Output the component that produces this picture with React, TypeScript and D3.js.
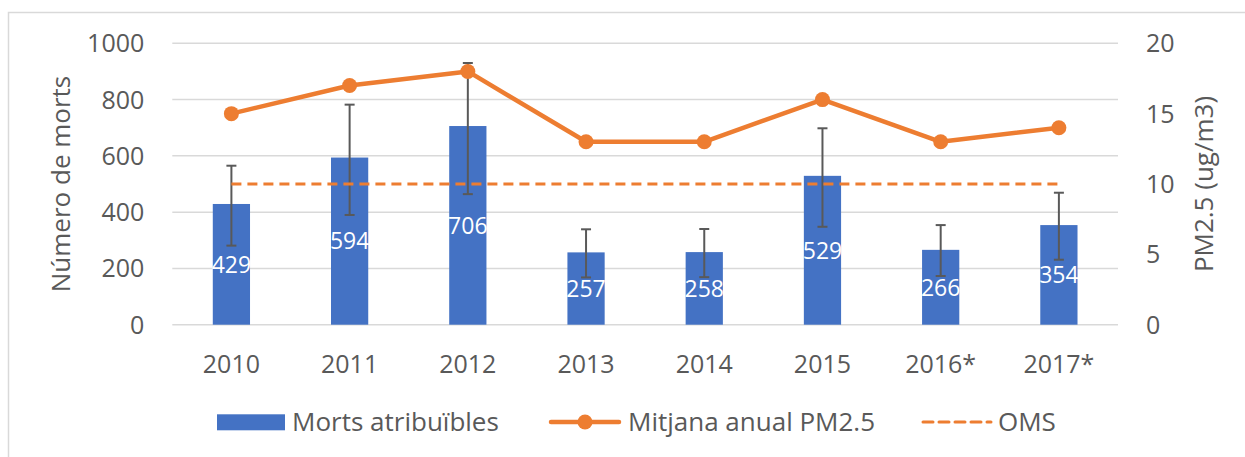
import * as d3 from 'd3';

const years = ['2010', '2011', '2012', '2013', '2014', '2015', '2016*', '2017*'];
const deaths = [429, 594, 706, 257, 258, 529, 266, 354];
const deathsLow = [281, 390, 464, 168, 169, 348, 173, 231];
const deathsHigh = [565, 782, 930, 339, 340, 698, 354, 469];
const pm25 = [15, 17, 18, 13, 13, 16, 13, 14];
const oms = 10;
const leftTicks = [0, 200, 400, 600, 800, 1000];
const rightTicks = [0, 5, 10, 15, 20];

const W = 1245;
const H = 457;
const MARGIN = { top: 43.3, right: 127, bottom: 132.3, left: 172.3 };
const FONT = '"Open Sans", sans-serif';
const TEXT = '#595959';
const BLUE = '#4472C4';
const ORANGE = '#ED7D31';

export default function App() {
    const boundsW = W - MARGIN.left - MARGIN.right;
    const boundsH = H - MARGIN.top - MARGIN.bottom;

    const x = d3.scaleBand().domain(years).range([0, boundsW]).padding(0);
    const yL = d3.scaleLinear().domain([0, 1000]).range([boundsH, 0]);
    const yR = d3.scaleLinear().domain([0, 20]).range([boundsH, 0]);
    const barW = x.bandwidth() * 0.315;
    const cx = (d: string) => (x(d) ?? 0) + x.bandwidth() / 2;

    const line = d3
        .line<number>()
        .x((_, i) => cx(years[i]))
        .y((d) => yR(d));

    const first = cx(years[0]);
    const last = cx(years[years.length - 1]);

    return (
        <svg width={W} height={H} style={{ position: 'absolute', left: 0, top: 0 }} fontFamily={FONT}>
            <rect x={0} y={0} width={W} height={H} fill="#fff" />
            <rect x={8.5} y={12.5} width={W} height={H} fill="none" stroke="#D9D9D9" strokeWidth={1.5} />
            <g transform={`translate(${MARGIN.left},${MARGIN.top})`}>
                {leftTicks.map((t) => (
                    <line key={t} x1={0} x2={boundsW} y1={yL(t)} y2={yL(t)} stroke="#D9D9D9" strokeWidth={1.5} />
                ))}
                {leftTicks.map((t) => (
                    <text key={'l' + t} x={-28} y={yL(t)} dy="0.36em" textAnchor="end" fontSize={25} fill={TEXT}>
                        {t}
                    </text>
                ))}
                {rightTicks.map((t) => (
                    <text key={'r' + t} x={boundsW + 28} y={yR(t)} dy="0.36em" textAnchor="start" fontSize={25} fill={TEXT}>
                        {t}
                    </text>
                ))}
                {years.map((y) => (
                    <text key={'x' + y} x={cx(y)} y={boundsH + 48} textAnchor="middle" fontSize={25} fill={TEXT}>
                        {y}
                    </text>
                ))}

                {deaths.map((d, i) => (
                    <rect key={'b' + i} x={cx(years[i]) - barW / 2} y={yL(d)} width={barW} height={boundsH - yL(d)} fill={BLUE} />
                ))}
                {deaths.map((d, i) => (
                    <text
                        key={'v' + i}
                        x={cx(years[i])}
                        y={(yL(d) + boundsH) / 2}
                        dy="0.36em"
                        textAnchor="middle"
                        fontSize={23}
                        fill="#fff"
                    >
                        {d}
                    </text>
                ))}

                {/* error bars */}
                {deaths.map((_, i) => {
                    const c = cx(years[i]);
                    return (
                        <g key={'e' + i} stroke="#595959" strokeWidth={2}>
                            <line x1={c} x2={c} y1={yL(deathsLow[i])} y2={yL(deathsHigh[i])} />
                            <line x1={c - 5} x2={c + 5} y1={yL(deathsLow[i])} y2={yL(deathsLow[i])} />
                            <line x1={c - 5} x2={c + 5} y1={yL(deathsHigh[i])} y2={yL(deathsHigh[i])} />
                        </g>
                    );
                })}

                <line x1={first} x2={last} y1={yR(oms)} y2={yR(oms)} stroke={ORANGE} strokeWidth={3} strokeDasharray="10,6" />

                <path d={line(pm25) ?? ''} fill="none" stroke={ORANGE} strokeWidth={4.5} strokeLinejoin="round" />
                {pm25.map((v, i) => (
                    <circle key={'p' + i} cx={cx(years[i])} cy={yR(v)} r={7.5} fill={ORANGE} />
                ))}
            </g>

            <text transform={`translate(70,${MARGIN.top + boundsH / 2}) rotate(-90)`} textAnchor="middle" fontSize={26} fill={TEXT}>
                Número de morts
            </text>
            <text transform={`translate(1213,${MARGIN.top + boundsH / 2}) rotate(-90)`} textAnchor="middle" fontSize={26} fill={TEXT}>
                PM2.5 (ug/m3)
            </text>

            {/* legend */}
            <g fontSize={26} fill={TEXT}>
                <rect x={217} y={414.3} width={68} height={16} fill={BLUE} />
                <text x={292} y={422} dy="0.36em">Morts atribuïbles</text>
                <line x1={551} x2={619} y1={422} y2={422} stroke={ORANGE} strokeWidth={4.5} strokeLinecap="round" />
                <circle cx={585} cy={422} r={7.5} fill={ORANGE} />
                <text x={628} y={422} dy="0.36em">Mitjana anual PM2.5</text>
                <line x1={923} x2={991} y1={422} y2={422} stroke={ORANGE} strokeWidth={3} strokeDasharray="10,6" strokeLinecap="round" />
                <text x={998} y={422} dy="0.36em">OMS</text>
            </g>
        </svg>
    );
}
